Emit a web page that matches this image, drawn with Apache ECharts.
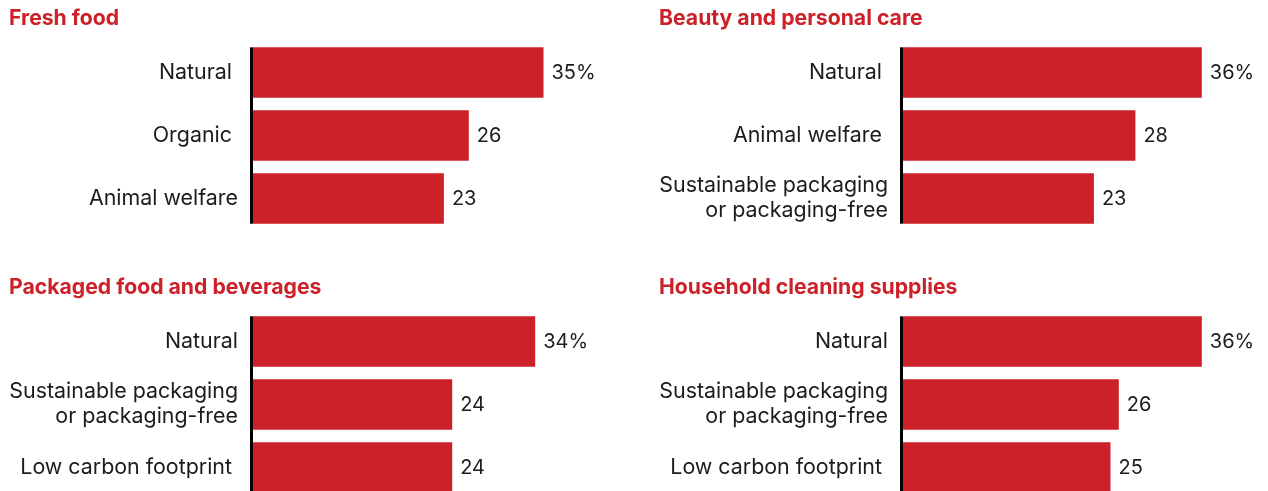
<!DOCTYPE html>
<html>
<head>
<meta charset="utf-8">
<style>
  html, body { margin: 0; padding: 0; background: #ffffff; }
  #chart { width: 1268px; height: 491px; }
</style>
<script src="https://cdn.jsdelivr.net/npm/echarts@6/dist/echarts.min.js"></script>
</head>
<body>
<div id="chart"></div>
<script>
// Panel titles
const panelTitles = ['Fresh food', 'Beauty and personal care', 'Packaged food and beverages', 'Household cleaning supplies'];

// Categories and shares (%) per product group
const freshCats = ['Natural ', 'Organic ', 'Animal welfare'];
const freshVals = [35, 26, 23];

const beautyCats = ['Natural ', 'Animal welfare ', 'Sustainable packaging\nor packaging-free'];
const beautyVals = [36, 28, 23];

const packagedCats = ['Natural', 'Sustainable packaging\nor packaging-free', 'Low carbon footprint '];
const packagedVals = [34, 24, 24];

const cleaningCats = ['Natural', 'Sustainable packaging\nor packaging-free', 'Low carbon footprint '];
const cleaningVals = [36, 26, 25];

const RED = '#cc2128';
const INK = '#1c1c1c';
const FONT = 'Inter, "Noto Sans", sans-serif';

const panels = [
  { cats: freshCats, vals: freshVals },
  { cats: beautyCats, vals: beautyVals },
  { cats: packagedCats, vals: packagedVals },
  { cats: cleaningCats, vals: cleaningVals }
];

// Layout of the 2x2 panel grid
const gridLefts = [253, 903];
const gridTops = [41, 310];
const titleTops = [8, 277];
const titleLefts = [9, 659];
const GRID_W = 332;
const GRID_H = 189;
const BAR_FRACTION = 0.8;

const grids = [], xAxes = [], yAxes = [], series = [], titles = [];

panels.forEach((p, i) => {
  const col = i % 2, row = Math.floor(i / 2);
  titles.push({
    text: panelTitles[i],
    left: titleLefts[col],
    top: titleTops[row],
    padding: 0,
    textStyle: { color: RED, fontFamily: FONT, fontWeight: 'bold', fontSize: 21.2 }
  });
  grids.push({
    left: gridLefts[col], top: gridTops[row], width: GRID_W, height: GRID_H,
    containLabel: false, outerBoundsMode: 'none'
  });
  xAxes.push({
    type: 'value', gridIndex: i, min: 0, max: 40,
    show: false
  });
  yAxes.push({
    type: 'category', gridIndex: i, data: p.cats, inverse: true,
    axisLine: { show: false }, axisTick: { show: false }, splitLine: { show: false },
    axisLabel: {
      color: INK, fontFamily: FONT, fontSize: 21.4, lineHeight: 25,
      margin: 15, align: 'right'
    }
  });
  series.push({
    type: 'bar', xAxisIndex: i, yAxisIndex: i,
    data: p.vals,
    barCategoryGap: ((1 - BAR_FRACTION) * 100) + '%',
    itemStyle: { color: RED },
    label: {
      show: true, position: 'right', distance: 8,
      color: INK, fontFamily: FONT, fontSize: 20,
      formatter: (d) => d.dataIndex === 0 ? d.value + '%' : String(d.value)
    },
    silent: true
  });
  // Baseline rule spanning from the top of the first bar to the bottom of the last bar
  const last = p.cats.length - 1;
  series.push({
    type: 'custom', xAxisIndex: i, yAxisIndex: i,
    data: [[0, 0]],
    encode: { x: 0, y: 1 },
    silent: true, clip: false, z: 5,
    renderItem: (params, api) => {
      const a = api.coord([0, 0]);
      const b = api.coord([0, last]);
      const band = api.size([0, 1])[1];
      const half = band * BAR_FRACTION / 2;
      const top = Math.min(a[1], b[1]) - half;
      const bottom = Math.max(a[1], b[1]) + half;
      return {
        type: 'rect',
        shape: { x: a[0] - 3, y: top, width: 3, height: bottom - top },
        style: { fill: '#000000' }
      };
    }
  });
});

const chart = echarts.init(document.getElementById('chart'), null, { renderer: 'canvas' });
chart.setOption({
  animation: false,
  backgroundColor: '#ffffff',
  title: titles,
  grid: grids,
  xAxis: xAxes,
  yAxis: yAxes,
  series: series
});
</script>
</body>
</html>
